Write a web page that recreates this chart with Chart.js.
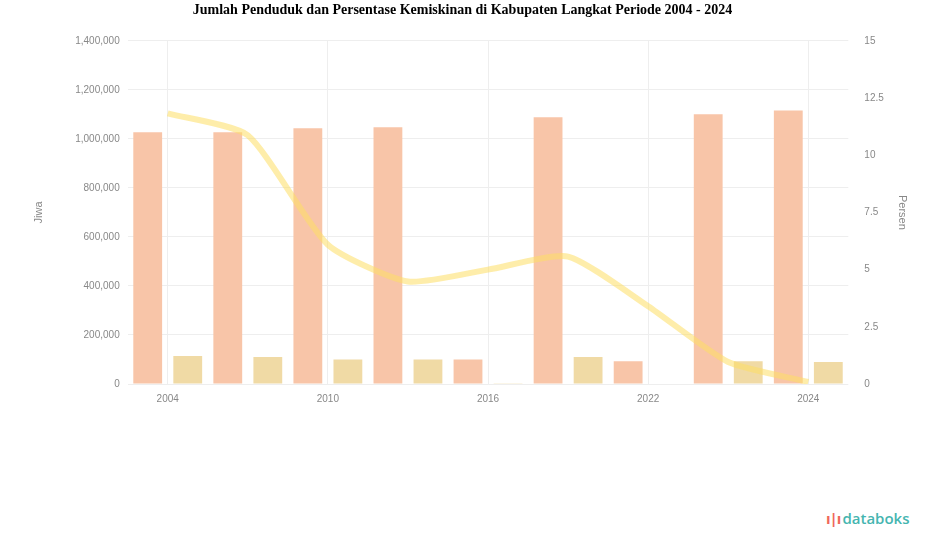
<!DOCTYPE html>
<html>
<head>
<meta charset="utf-8">
<script src="https://cdn.jsdelivr.net/npm/chart.js@4"></script>
<style>
  body { margin: 0; background: #fff; font-family: "Liberation Serif", serif; }
  #wrap { position: relative; width: 925px; height: 418px; }
  #logo { position: absolute; left: 826px; top: 508px; font-family: "Open Sans", sans-serif;
          font-size: 15px; font-weight: 600; color: #45b5b0; }
  #logo span { color: #f0685a; font-weight: 700; margin-right: 2px; letter-spacing: -1px; }
</style>
</head>
<body>
<div id="wrap"><canvas id="chart"></canvas></div>
<div id="logo"><span>ı|ı</span>databoks</div>
<script>
// Years on the x axis
const tahun = ["2004", "2007", "2010", "2013", "2016", "2019", "2022", "2023", "2024"];

// Jumlah penduduk (jiwa)
const penduduk = [1027000, 1027000, 1043000, 1047000, 100000, 1088000, 93000, 1100000, 1116000];

// Jumlah penduduk miskin (jiwa)
const pendudukMiskin = [114000, 110000, 100000, 100000, 3000, 110000, 2000, 93000, 90000];

// Persentase kemiskinan (%)
const persenMiskin = [11.83, 10.87, 6.09, 4.48, 5.0, 5.57, 3.4, 0.96, 0.09];

const ctx = document.getElementById("chart").getContext("2d");

new Chart(ctx, {
  data: {
    labels: tahun,
    datasets: [
      {
        type: "line",
        label: "Persentase Kemiskinan",
        data: persenMiskin,
        yAxisID: "y1",
        borderColor: "rgba(253, 222, 100, 0.55)",
        borderWidth: 6,
        pointRadius: 0,
        tension: 0.2,
        order: 0
      },
      {
        type: "bar",
        label: "Jumlah Penduduk",
        data: penduduk,
        yAxisID: "y",
        backgroundColor: "rgba(248, 197, 168, 1)",
        categoryPercentage: 1.0,
        barPercentage: 0.72,
        order: 1
      },
      {
        type: "bar",
        label: "Jumlah Penduduk Miskin",
        data: pendudukMiskin,
        yAxisID: "y",
        backgroundColor: "rgba(240, 218, 165, 1)",
        categoryPercentage: 1.0,
        barPercentage: 0.72,
        order: 1
      }
    ]
  },
  options: {
    responsive: true,
    maintainAspectRatio: false,
    animation: false,
    layout: { padding: { left: 0, right: 0, top: 0, bottom: 4 } },
    plugins: {
      legend: { display: false },
      tooltip: { enabled: false },
      title: {
        display: true,
        text: "Jumlah Penduduk dan Persentase Kemiskinan di Kabupaten Langkat Periode 2004 - 2024",
        color: "#000",
        font: { family: "Liberation Serif", size: 14, weight: "bold" },
        padding: { top: 2, bottom: 22 }
      }
    },
    scales: {
      x: {
        grid: { color: "#eeeeee", offset: false, drawTicks: false },
        border: { display: false },
        ticks: {
          color: "#888",
          font: { family: "Liberation Sans", size: 10 },
          padding: 9,
          maxRotation: 0,
          autoSkip: true,
          maxTicksLimit: 5
        }
      },
      y: {
        position: "left",
        min: 0,
        max: 1400000,
        grid: { color: "#eeeeee", drawTicks: false },
        border: { display: false },
        ticks: {
          stepSize: 200000,
          color: "#888",
          padding: 8,
          font: { family: "Liberation Sans", size: 10 },
          callback: (v) => v.toLocaleString("en-US")
        },
        title: {
          display: true,
          text: "Jiwa",
          color: "#888",
          font: { family: "Liberation Sans", size: 11 },
          padding: { top: 32, bottom: 22 }
        }
      },
      y1: {
        position: "right",
        min: 0,
        max: 15,
        grid: { display: false },
        border: { display: false },
        ticks: {
          stepSize: 2.5,
          color: "#888",
          padding: 8,
          font: { family: "Liberation Sans", size: 10 }
        },
        title: {
          display: true,
          text: "Persen",
          color: "#888",
          font: { family: "Liberation Sans", size: 11 },
          padding: { top: 16 }
        }
      }
    }
  }
});
</script>
</body>
</html>
